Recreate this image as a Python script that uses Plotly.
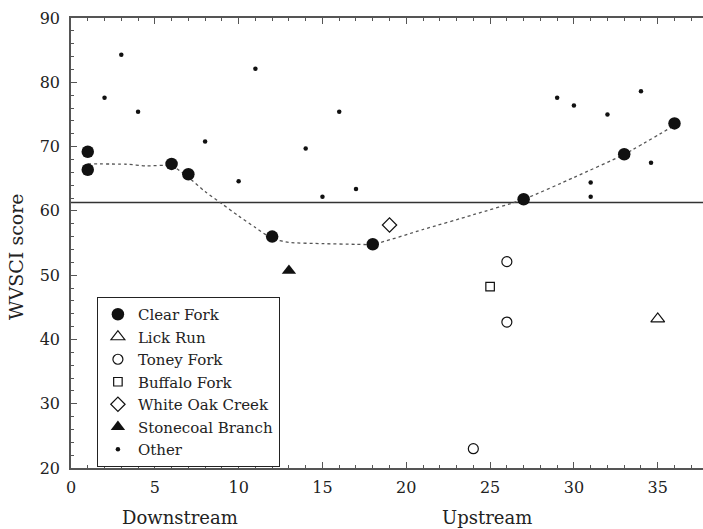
import plotly.graph_objects as go

# ---- data ----
clear_fork_x = [1, 1, 6, 7, 12, 18, 27, 33, 36]
clear_fork_y = [69.2, 66.4, 67.3, 65.7, 56.0, 54.8, 61.8, 68.8, 73.6]

lick_run_x = [35]
lick_run_y = [43.2]

toney_fork_x = [24, 26, 26]
toney_fork_y = [23.0, 42.7, 52.1]

buffalo_fork_x = [25]
buffalo_fork_y = [48.2]

white_oak_x = [19]
white_oak_y = [57.8]

stonecoal_x = [13]
stonecoal_y = [50.7]

other_x = [2, 3, 4, 8, 10, 11, 14, 15, 16, 17, 29, 30, 31, 31, 32, 34, 34.6]
other_y = [77.6, 84.3, 75.4, 70.8, 64.6, 82.1, 69.7, 62.2, 75.4, 63.4,
           77.6, 76.4, 64.4, 62.2, 75.0, 78.6, 67.5]

# smoothed trend through Clear Fork
smooth_x = [1, 3.3, 4.5, 6, 7, 8, 9, 10, 11, 12, 13, 15, 17, 18, 21, 24, 27, 30, 33, 36]
smooth_y = [67.3, 67.25, 67.0, 67.0, 65.2, 63.0, 61.1, 59.2, 57.4, 55.7, 55.1, 54.9,
            54.8, 54.8, 57.1, 59.4, 61.8, 65.2, 68.8, 73.3]

threshold = 61.3
x_range = [0, 37.7]
y_range = [20, 90]
annot_labels = ["Downstream", "Upstream"]
annot_x = [6.5, 24.8]

FONT = "DejaVu Serif"
AX = "#555555"
TXT = "#222222"

fig = go.Figure()

fig.add_trace(go.Scatter(x=x_range, y=[threshold, threshold], mode="lines",
                         line=dict(color="#333333", width=1.3),
                         showlegend=False, hoverinfo="skip"))
fig.add_trace(go.Scatter(x=smooth_x, y=smooth_y, mode="lines",
                         line=dict(color="#555555", width=1.3, dash="dot",
                                   shape="spline", smoothing=0.6),
                         showlegend=False, hoverinfo="skip"))


def add(name, x, y, symbol, size, lw=0):
    fig.add_trace(go.Scatter(
        x=x, y=y, mode="markers", name=name,
        marker=dict(symbol=symbol, size=size, color="#111111",
                    line=dict(width=lw, color="#111111"))))


add("Clear Fork", clear_fork_x, clear_fork_y, "circle", 12.5)
add("Lick Run", lick_run_x, lick_run_y, "triangle-up-open", 12, 1.2)
add("Toney Fork", toney_fork_x, toney_fork_y, "circle-open", 10, 1.2)
add("Buffalo Fork", buffalo_fork_x, buffalo_fork_y, "square-open", 8.5, 1.2)
add("White Oak Creek", white_oak_x, white_oak_y, "diamond-open", 11, 1.2)
add("Stonecoal Branch", stonecoal_x, stonecoal_y, "triangle-up", 12.5)
add("Other", other_x, other_y, "circle", 4.5)

for lab, xv in zip(annot_labels, annot_x):
    fig.add_annotation(x=xv, xref="x", y=-0.109, yref="paper", text=lab,
                       showarrow=False, xanchor="center", yanchor="middle",
                       font=dict(family=FONT, size=18, color=TXT))

fig.add_annotation(x=-0.087, xref="paper", y=0.469, yref="paper", text="WVSCI score",
                   textangle=-90, showarrow=False, xanchor="center", yanchor="middle",
                   font=dict(family=FONT, size=19, color=TXT))

fig.update_layout(
    width=703, height=529,
    margin=dict(l=71, r=0, t=18, b=61),
    paper_bgcolor="white", plot_bgcolor="white",
    font=dict(family=FONT, color=TXT),
    showlegend=True,
    legend=dict(x=0.041, y=0.38, xanchor="left", yanchor="top",
                bordercolor=TXT, borderwidth=1, bgcolor="white",
                font=dict(family=FONT, size=15, color=TXT),
                tracegroupgap=0),
    xaxis=dict(range=x_range, dtick=5, tick0=0, ticks="inside", ticklen=6,
               tickwidth=1.2, tickcolor=AX, showline=True, linecolor=AX,
               linewidth=1.5, mirror="ticks", showgrid=False, zeroline=False,
               ticklabelstandoff=4,
               minor=dict(dtick=1, ticks="inside", ticklen=3, tickcolor=AX, tickwidth=1),
               tickfont=dict(family=FONT, size=16, color=TXT)),
    yaxis=dict(range=y_range, dtick=10, tick0=0, ticks="inside", ticklen=6,
               tickwidth=1.2, tickcolor=AX, showline=True, linecolor=AX,
               linewidth=1.5, showgrid=False, zeroline=False,
               ticklabelstandoff=6,
               minor=dict(dtick=2, ticks="inside", ticklen=3, tickcolor=AX, tickwidth=1),
               tickfont=dict(family=FONT, size=16, color=TXT)),
)

fig.write_html("out.html",
               config={"displayModeBar": False},
               post_script="document.body.style.margin='0px';"
                           "document.body.style.overflow='hidden';")
